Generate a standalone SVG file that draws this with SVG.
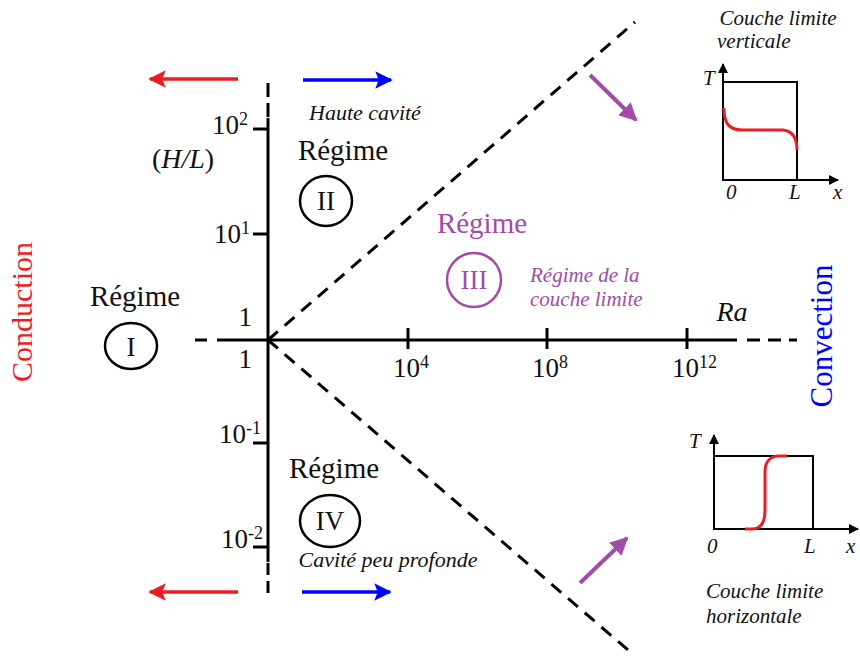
<svg xmlns="http://www.w3.org/2000/svg" width="860" height="659" viewBox="0 0 860 659" font-family="'Liberation Serif', 'DejaVu Serif', 'Times New Roman', serif">
<defs>
<style>
text{font-family:'Liberation Serif','DejaVu Serif','Times New Roman',serif;fill:#111}
.it{font-style:italic}
.ax{stroke:#000;stroke-width:3;fill:none}
.dash{stroke:#000;stroke-width:3;fill:none;stroke-dasharray:13 9}
.circ{fill:none;stroke:#000;stroke-width:2.5}
.reg{font-size:29px;text-anchor:middle}
.num{font-size:27px;text-anchor:middle}
.tick{font-size:27px}
.sup{font-size:18px}
.pur{fill:#a24ba6}
.red{stroke:#ec1c24;stroke-width:3.5;fill:none}
.blue{stroke:#0000ff;stroke-width:3.5;fill:none}
.purl{stroke:#a24ba6;stroke-width:4;fill:none}
.inset{stroke:#000;stroke-width:2;fill:none}
.curve{stroke:#ec1c24;stroke-width:3;fill:none}
.lab{font-size:21px}
.small{font-size:22px}
</style>
<marker id="mr" viewBox="0 0 10 10" refX="9" refY="5" markerWidth="6.5" markerHeight="5" orient="auto" markerUnits="strokeWidth"><path d="M0,0 L10,5 L0,10 L2,5 z" fill="#ec1c24"/></marker>
<marker id="mb" viewBox="0 0 10 10" refX="9" refY="5" markerWidth="6.5" markerHeight="5" orient="auto" markerUnits="strokeWidth"><path d="M0,0 L10,5 L0,10 L2,5 z" fill="#0000ff"/></marker>
<marker id="mp" viewBox="0 0 10 10" refX="9" refY="5" markerWidth="4.5" markerHeight="4.5" orient="auto" markerUnits="strokeWidth"><path d="M0,0 L10,5 L0,10 z" fill="#a24ba6"/></marker>
<marker id="mk" viewBox="0 0 10 10" refX="9" refY="5" markerWidth="6" markerHeight="5" orient="auto" markerUnits="strokeWidth"><path d="M0,0 L10,5 L0,10 z" fill="#000"/></marker>
</defs>

<g id="connectors">
  <line class="ax" x1="268" y1="118" x2="268" y2="562"/>
  <line class="dash" x1="268" y1="117" x2="268" y2="80" style="stroke-dasharray:14 6"/>
  <line class="dash" x1="268" y1="563" x2="268" y2="598" style="stroke-dasharray:12 6"/>
  <line class="ax" x1="237" y1="340" x2="737" y2="340"/>
  <line class="dash" x1="237" y1="340" x2="195" y2="340" style="stroke-dasharray:20 10"/>
  <line class="dash" x1="747" y1="340" x2="797" y2="340" style="stroke-dasharray:13 8"/>
  <line class="ax" x1="253" y1="129" x2="268" y2="129"/>
  <line class="ax" x1="253" y1="234" x2="268" y2="234"/>
  <line class="ax" x1="253" y1="443" x2="268" y2="443"/>
  <line class="ax" x1="253" y1="547" x2="268" y2="547"/>
  <line class="ax" x1="408" y1="328" x2="408" y2="349"/>
  <line class="ax" x1="547" y1="328" x2="547" y2="349"/>
  <line class="ax" x1="687" y1="328" x2="687" y2="349"/>
  <line class="dash" x1="268" y1="340" x2="635" y2="22"/>
  <line class="dash" x1="268" y1="340" x2="628" y2="650"/>
  <line class="red" x1="238" y1="79" x2="150" y2="79" marker-end="url(#mr)"/>
  <line class="blue" x1="303" y1="80" x2="391" y2="80" marker-end="url(#mb)"/>
  <line class="red" x1="238" y1="592" x2="150" y2="592" marker-end="url(#mr)"/>
  <line class="blue" x1="302" y1="592" x2="390" y2="592" marker-end="url(#mb)"/>
  <line class="purl" x1="590" y1="75" x2="636" y2="120" marker-end="url(#mp)"/>
  <line class="purl" x1="580" y1="583" x2="627" y2="538" marker-end="url(#mp)"/>
</g>

<g id="axis-labels">
  <text class="tick" x="248" y="134" text-anchor="end">10<tspan class="sup" dy="-9">2</tspan></text>
  <text class="tick" x="250" y="243" text-anchor="end">10<tspan class="sup" dy="-9">1</tspan></text>
  <text class="tick" x="252" y="326" text-anchor="end">1</text>
  <text class="tick" x="252" y="368" text-anchor="end">1</text>
  <text class="tick" x="261" y="443" text-anchor="end">10<tspan class="sup" dy="-9">-1</tspan></text>
  <text class="tick" x="263" y="548" text-anchor="end">10<tspan class="sup" dy="-9">-2</tspan></text>
  <text class="tick" x="393" y="377">10<tspan class="sup" dy="-9">4</tspan></text>
  <text class="tick" x="532" y="377">10<tspan class="sup" dy="-9">8</tspan></text>
  <text class="tick" x="672" y="377">10<tspan class="sup" dy="-9">12</tspan></text>
  <text x="183" y="168" font-size="28" text-anchor="middle">(<tspan class="it">H/L</tspan>)</text>
  <text class="it" x="732" y="321" font-size="28" text-anchor="middle">Ra</text>
  <text x="22" y="312" font-size="30" text-anchor="middle" style="fill:#ec1c24" transform="rotate(-90 22 312)" dy="10">Conduction</text>
  <text x="822" y="336" font-size="31" text-anchor="middle" style="fill:#0000ff" transform="rotate(-90 822 336)" dy="10">Convection</text>
</g>

<g id="regime-I">
  <text class="reg" x="135" y="306">Régime</text>
  <ellipse class="circ" cx="131" cy="346" rx="26" ry="23"/>
  <text class="num" x="131" y="356">I</text>
</g>

<g id="regime-II">
  <text class="reg" x="343" y="160">Régime</text>
  <ellipse class="circ" cx="326" cy="201" rx="26" ry="25"/>
  <text class="num" x="326" y="210">II</text>
  <text class="it small" x="365" y="120" text-anchor="middle">Haute cavité</text>
</g>

<g id="regime-III">
  <text class="reg pur" x="482" y="233">Régime</text>
  <ellipse class="circ" cx="474" cy="280" rx="27" ry="27" style="stroke:#a24ba6"/>
  <text class="num pur" x="474" y="289">III</text>
  <text class="it pur" x="530" y="282" font-size="21">Régime de la</text>
  <text class="it pur" x="530" y="306" font-size="21">couche limite</text>
</g>

<g id="regime-IV">
  <text class="reg" x="334" y="478">Régime</text>
  <ellipse class="circ" cx="330" cy="521" rx="30" ry="26"/>
  <text class="num" x="330" y="530">IV</text>
  <text class="it small" x="388" y="567" text-anchor="middle">Cavité peu profonde</text>
</g>

<g id="inset-vertical">
  <text class="it lab" x="778" y="25" text-anchor="middle">Couche limite</text>
  <text class="it lab" x="717" y="48">verticale</text>
  <rect class="inset" x="723" y="82" width="74" height="98"/>
  <line class="inset" x1="723" y1="180" x2="723" y2="64" marker-end="url(#mk)"/>
  <line class="inset" x1="723" y1="180" x2="838" y2="180" marker-end="url(#mk)"/>
  <text class="it" x="703" y="85" font-size="21">T</text>
  <text class="it" x="726" y="199" font-size="21">0</text>
  <text class="it" x="789" y="199" font-size="21">L</text>
  <text class="it" x="833" y="199" font-size="21">x</text>
  <path class="curve" d="M724,108 C724,122 728,130 742,130 L783,130 C793,131 797,138 797,150"/>
</g>

<g id="inset-horizontal">
  <rect class="inset" x="714" y="456" width="99" height="73"/>
  <line class="inset" x1="714" y1="529" x2="714" y2="435" marker-end="url(#mk)"/>
  <line class="inset" x1="714" y1="529" x2="858" y2="529" marker-end="url(#mk)"/>
  <text class="it" x="689" y="448" font-size="21">T</text>
  <text class="it" x="707" y="553" font-size="21">0</text>
  <text class="it" x="804" y="553" font-size="21">L</text>
  <text class="it" x="846" y="553" font-size="21">x</text>
  <path class="curve" d="M745,529 L752,529 C760,529 765,524 765,510 L765,472 C765,462 770,456 779,456 L787,456"/>
  <text class="it lab" x="706" y="598">Couche limite</text>
  <text class="it lab" x="706" y="623">horizontale</text>
</g>
</svg>
